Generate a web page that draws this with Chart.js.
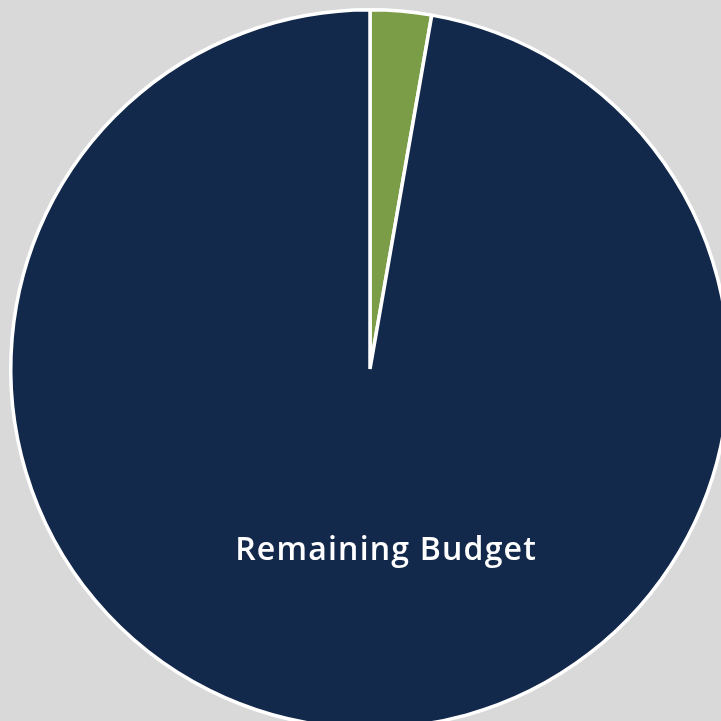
<!DOCTYPE html>
<html>
<head>
<meta charset="utf-8">
<script src="https://cdn.jsdelivr.net/npm/chart.js@4/dist/chart.umd.min.js"></script>
<style>
  html, body { margin: 0; padding: 0; background: #d9d9d9; overflow: hidden; }
  #wrap { position: absolute; left: 0; top: 0; width: 740px; height: 738px; }
</style>
</head>
<body>
<div id="wrap"><canvas id="budgetChart"></canvas></div>
<script>
// Budget split (percent of total)
const categories = ['Spent', 'Remaining Budget'];
const shares = [2.75, 97.25];
const sliceColors = ['#7b9d47', '#13294b'];

// Only the big slice carries a label in the reference
const labelPlugin = {
    id: 'sliceLabel',
    afterDatasetsDraw(chart) {
        const ctx = chart.ctx;
        const arc = chart.getDatasetMeta(0).data[1];
        const r = arc.outerRadius;
        ctx.save();
        ctx.fillStyle = '#ffffff';
        ctx.font = '600 32px "Open Sans", sans-serif';
        ctx.letterSpacing = '1.2px';
        ctx.textAlign = 'center';
        ctx.textBaseline = 'middle';
        ctx.fillText(categories[1], arc.x + 0.045 * r, arc.y + 0.507 * r);
        ctx.restore();
    }
};

new Chart(document.getElementById('budgetChart'), {
    type: 'pie',
    data: {
        labels: categories,
        datasets: [{
            data: shares,
            backgroundColor: sliceColors,
            borderColor: '#ffffff',
            borderWidth: 3.5
        }]
    },
    options: {
        responsive: true,
        maintainAspectRatio: false,
        animation: false,
        layout: { padding: 8 },
        plugins: { legend: { display: false }, tooltip: { enabled: false } }
    },
    plugins: [labelPlugin]
});
</script>
</body>
</html>
